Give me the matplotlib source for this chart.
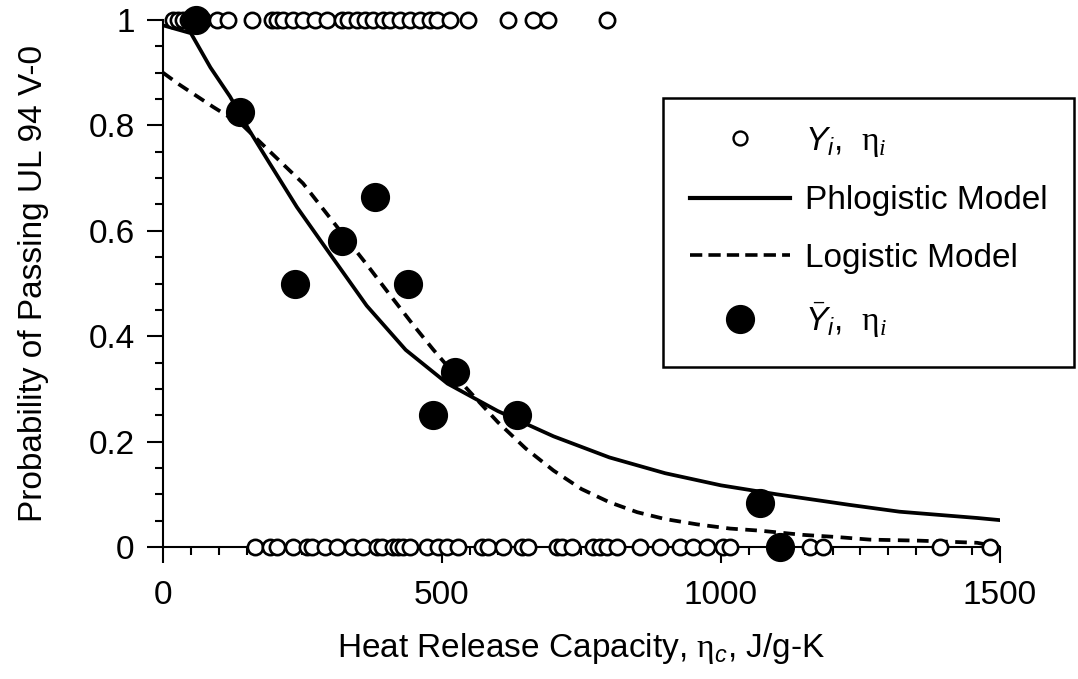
import numpy as np
import matplotlib.pyplot as plt
from matplotlib.lines import Line2D
from matplotlib.ticker import MultipleLocator, FuncFormatter

plt.rcParams['font.family'] = ['Liberation Sans', 'DejaVu Sans']
plt.rcParams['mathtext.fontset'] = 'custom'
plt.rcParams['mathtext.rm'] = 'Liberation Serif'
plt.rcParams['mathtext.it'] = 'Liberation Sans:italic'
plt.rcParams['mathtext.sf'] = 'Liberation Sans'
# serif italic used for the subscript of eta in the legend
plt.rcParams['mathtext.bf'] = 'Liberation Serif:italic'

# individual outcomes, Y_i = 1 (pass) and Y_i = 0 (fail)
hrc_pass = [18, 27, 36, 45, 55, 61, 72, 97, 116, 159, 195, 204, 215, 233, 251,
            272, 294, 321, 332, 348, 362, 376, 394, 407, 425, 443, 461, 478,
            491, 514, 547, 618, 663, 690, 796]
hrc_fail = [165, 192, 204, 233, 258, 267, 290, 312, 339, 358, 384, 392, 412,
            421, 430, 443, 473, 493, 509, 529, 572, 582, 609, 643, 654, 706,
            715, 733, 771, 783, 796, 814, 855, 891, 927, 950, 975, 1004, 1016,
            1159, 1183, 1392, 1482]

# binned means
bin_hrc = [60, 138, 237, 321, 380, 439, 484, 523, 634, 1070, 1106]
bin_frac = [1.0, 0.825, 0.5, 0.58, 0.665, 0.5, 0.25, 0.333, 0.25, 0.083, 0.0]

# model curves
phlog_hrc = [0, 50, 85, 120, 155, 190, 240, 300, 365, 435, 510, 600, 700,
             800, 900, 1000, 1100, 1230, 1320, 1390, 1460, 1500]
phlog_p = [0.99, 0.975, 0.91, 0.855, 0.79, 0.73, 0.645, 0.555, 0.458, 0.374,
           0.31, 0.258, 0.21, 0.17, 0.14, 0.117, 0.1, 0.08, 0.067, 0.061,
           0.055, 0.051]
logit_hrc = [0, 30, 90, 143, 192, 251, 299, 366, 407, 448, 484, 545, 600,
             650, 700, 750, 800, 850, 900, 957, 1016, 1070, 1147, 1207, 1267,
             1357, 1459, 1500]
logit_p = [0.9, 0.877, 0.835, 0.8, 0.75, 0.69, 0.625, 0.535, 0.478, 0.422,
           0.375, 0.3, 0.237, 0.187, 0.145, 0.11, 0.085, 0.066, 0.053,
           0.043, 0.035, 0.031, 0.023, 0.019, 0.014, 0.012, 0.008, 0.0]

fig = plt.figure(figsize=(10.78, 6.79), dpi=100)
ax = fig.add_axes([0.1512, 0.1944, 0.7764, 0.7761])

ax.plot(phlog_hrc, phlog_p, color='black', lw=2.7, zorder=3)
ax.plot(logit_hrc, logit_p, color='black', lw=2.7, ls=(0, (3.1, 2.0)), zorder=3)
ax.plot(hrc_pass, np.ones(len(hrc_pass)), 'o', ms=11, mfc='white', mec='black',
        mew=1.9, clip_on=False, zorder=4)
ax.plot(hrc_fail, np.zeros(len(hrc_fail)), 'o', ms=11, mfc='white', mec='black',
        mew=1.9, clip_on=False, zorder=4)
ax.plot(bin_hrc, bin_frac, 'o', ms=20, color='black', clip_on=False, zorder=5)

ax.set_xlim(0, 1500)
ax.set_ylim(0, 1)
ax.set_xticks([0, 500, 1000, 1500])
ax.set_yticks([0, 0.2, 0.4, 0.6, 0.8, 1.0])
ax.xaxis.set_minor_locator(MultipleLocator(50))
ax.yaxis.set_minor_locator(MultipleLocator(0.05))
ax.yaxis.set_major_formatter(FuncFormatter(lambda v, p: f"{v:g}"))
ax.tick_params(which='major', direction='out', length=11.5, width=1.5,
               labelsize=24, color='black')
ax.tick_params(which='minor', direction='out', length=5.5, width=1.5)
ax.tick_params(axis='x', which='major', pad=12)
ax.tick_params(axis='y', which='major', pad=9)

for s in ['top', 'right']:
    ax.spines[s].set_visible(False)
for s in ['left', 'bottom']:
    ax.spines[s].set_linewidth(1.5)

ax.set_xlabel(r"Heat Release Capacity, $\mathrm{\eta}_{c}$, J/g-K",
              fontsize=24, labelpad=15)
ax.set_ylabel("Probability of Passing UL 94 V-0", fontsize=24, labelpad=28)

handles = [
    Line2D([], [], ls='none', marker='o', ms=10, mfc='white', mec='black', mew=1.7),
    Line2D([], [], color='black', lw=3),
    Line2D([], [], color='black', lw=2.6, ls=(0, (3.4, 1.7))),
    Line2D([], [], ls='none', marker='o', ms=20, color='black'),
]
labels = [r"$Y_i$,  $\mathrm{\eta}_{\mathbf{i}}$", "Phlogistic Model",
          "Logistic Model", r"$\bar{Y}_i$,  $\mathrm{\eta}_{\mathbf{i}}$"]
leg = ax.legend(handles, labels, loc='upper left',
                bbox_to_anchor=(663 / 1078, 1 - 98 / 679),
                bbox_transform=fig.transFigure, borderaxespad=0,
                fontsize=24, frameon=True, fancybox=False, framealpha=1,
                handlelength=3.0, handletextpad=0.45, labelspacing=0.8,
                borderpad=0.8)
leg.get_frame().set_edgecolor('black')
leg.get_frame().set_linewidth(1.8)

fig.savefig("out.png", dpi=100)
